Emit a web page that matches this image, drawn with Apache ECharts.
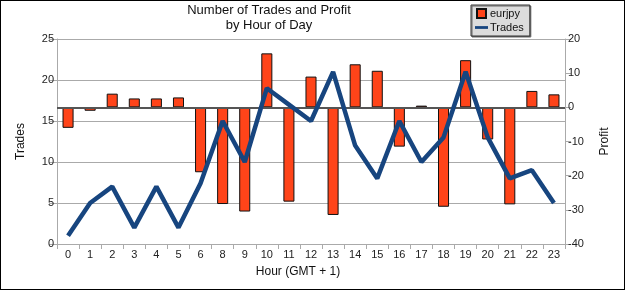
<!DOCTYPE html>
<html>
<head>
<meta charset="utf-8">
<script src="https://cdn.jsdelivr.net/npm/echarts@6/dist/echarts.min.js"></script>
<style>
  html, body { margin: 0; padding: 0; background: #fff; }
  #chart { width: 625px; height: 290px; position: absolute; left: 0; top: 0; }
  #frame { position: absolute; left: 0; top: 0; width: 625px; height: 290px; box-sizing: border-box; border: 1px solid #000; pointer-events: none; }
</style>
</head>
<body>
<div id="chart"></div>
<div id="frame"></div>
<script>
// hours (7 is missing in the source)
var hours = ['0','1','2','3','4','5','6','8','9','10','11','12','13','14','15','16','17','18','19','20','21','22','23'];
// profit per hour (right axis)
var profit = [-6, -1, 4, 2.6, 2.6, 2.9, -19, -28.3, -30.5, 15.8, -27.6, 9, -31.5, 12.6, 10.7, -11.5, 0.5, -29.1, 13.8, -9.4, -28.4, 4.8, 3.8];
// number of trades per hour (left axis)
var trades = [1, 5, 7, 2, 7, 2, 7.4, 15, 10, 19, 17, 15, 21, 12, 8, 15, 10, 13, 21, 13, 8, 9, 5];

var font = 'Liberation Sans, Arial, sans-serif';
var myChart = echarts.init(document.getElementById('chart'), null, { renderer: 'canvas' });

var option = {
  animation: false,
  textStyle: { fontFamily: font },
  graphic: [{
    type: 'text',
    x: 269, y: 3,
    style: {
      text: 'Number of Trades and Profit\nby Hour of Day',
      textAlign: 'center',
      font: '13px ' + font,
      lineHeight: 15,
      fill: '#111'
    }
  }],
  legend: {
    orient: 'vertical',
    left: 471, top: 5,
    padding: [3, 6, 3, 4],
    itemGap: 3,
    itemWidth: 13, itemHeight: 9,
    backgroundColor: '#dcdcdc',
    borderColor: '#333', borderWidth: 1,
    shadowColor: '#666', shadowOffsetX: 1, shadowOffsetY: 1, shadowBlur: 0,
    textStyle: { fontSize: 11, color: '#111', padding: [0, 0, 0, -3] },
    data: [
      { name: 'eurjpy', icon: 'path://M0,0H10V10H0Z' },
      { name: 'Trades', icon: 'path://M0,0H14V3H0Z' }
    ]
  },
  grid: { left: 57, right: 60, top: 39, bottom: 46 },
  xAxis: {
    type: 'category',
    data: hours,
    boundaryGap: true,
    name: 'Hour (GMT + 1)',
    nameLocation: 'middle',
    nameGap: 22,
    nameTextStyle: { fontSize: 12, color: '#111', padding: [0, 26, 0, 0] },
    axisLine: { onZero: false, lineStyle: { color: '#aaa', width: 1 } },
    axisTick: { show: true, interval: 0, length: 5, lineStyle: { color: '#aaa' } },
    axisLabel: { interval: 0, fontSize: 11, color: '#222', margin: 5 }
  },
  yAxis: [{
    type: 'value',
    min: 0, max: 25, interval: 5,
    name: 'Trades',
    nameLocation: 'middle',
    nameGap: 30,
    nameTextStyle: { fontSize: 12, color: '#111' },
    axisLine: { show: true, lineStyle: { color: '#aaa' } },
    axisTick: { show: true, length: 8, lineStyle: { color: '#aaa' } },
    axisLabel: { fontSize: 11, color: '#222', margin: 3 },
    splitLine: { show: true, lineStyle: { color: '#aaa', width: 1 } }
  }, {
    type: 'value',
    min: -40, max: 20, interval: 10,
    name: 'Profit',
    nameLocation: 'middle',
    nameGap: 34,
    nameTextStyle: { fontSize: 12, color: '#111' },
    axisLine: { show: true, lineStyle: { color: '#aaa' } },
    axisTick: { show: true, length: 6, lineStyle: { color: '#aaa' } },
    axisLabel: { fontSize: 11, color: '#222', margin: 3 },
    splitLine: { show: false }
  }],
  series: [{
    name: 'eurjpy',
    type: 'bar',
    yAxisIndex: 1,
    data: profit,
    barWidth: '50%',
    itemStyle: { color: '#ff4419', borderColor: '#111', borderWidth: 1 },
    markLine: {
      silent: true,
      symbol: 'none',
      label: { show: false },
      lineStyle: { color: '#555', width: 2, type: 'solid' },
      data: [{ yAxis: 0 }]
    }
  }, {
    name: 'Trades',
    type: 'line',
    yAxisIndex: 0,
    data: trades,
    symbol: 'none',
    lineStyle: { color: '#17457f', width: 4.5 },
    itemStyle: { color: '#17457f' },
    z: 5
  }]
};

myChart.setOption(option);
window.addEventListener('resize', function () { myChart.resize(); });
</script>
</body>
</html>
